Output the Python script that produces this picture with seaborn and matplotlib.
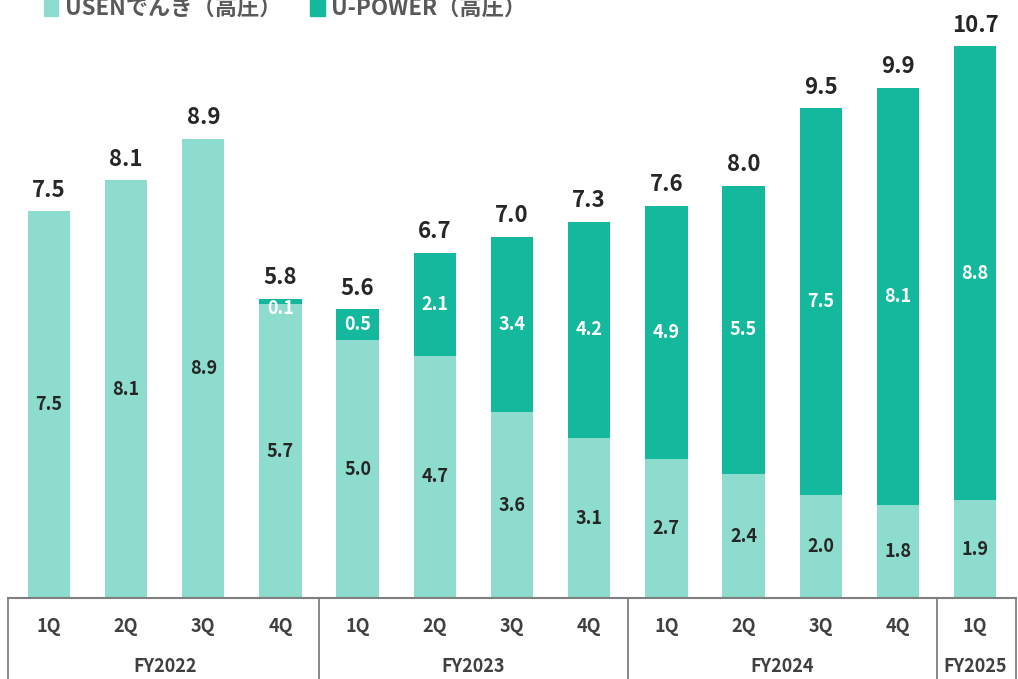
import matplotlib
matplotlib.use('Agg')
import matplotlib.pyplot as plt
from matplotlib.patches import Patch
import seaborn as sns
import pandas as pd
import numpy as np

# Data
quarters = ['1Q', '2Q', '3Q', '4Q', '1Q', '2Q', '3Q', '4Q', '1Q', '2Q', '3Q', '4Q', '1Q']
years = ['FY2022', 'FY2023', 'FY2024', 'FY2025']
year_sizes = [4, 4, 4, 1]
usen = [7.5, 8.1, 8.9, 5.7, 5.0, 4.7, 3.6, 3.1, 2.7, 2.4, 2.0, 1.8, 1.9]
upower = [0.0, 0.0, 0.0, 0.1, 0.5, 2.1, 3.4, 4.2, 4.9, 5.5, 7.5, 8.1, 8.8]
totals = [7.5, 8.1, 8.9, 5.8, 5.6, 6.7, 7.0, 7.3, 7.6, 8.0, 9.5, 9.9, 10.7]
series_names = ['USENでんき（高圧）', 'U-POWER（高圧）']

light = '#8DDCCE'
dark = '#14B89C'
text_dark = '#262626'
text_gray = '#404040'

sns.set_theme(style='white')
plt.rcParams['font.family'] = ['Noto Sans CJK JP', 'DejaVu Sans']

df = pd.DataFrame({
    'pos': [str(i) for i in range(len(quarters))],
    'usen': usen,
    'upower': upower,
    'total': totals,
})

fig = plt.figure(figsize=(10.18, 6.79), dpi=100)
ax = fig.add_axes([8 / 1018, 81 / 679, 1008 / 1018, 598 / 679])

# stacked look: total bar in dark, USEN portion drawn over it in light
sns.barplot(data=df, x='pos', y='total', color=dark, saturation=1, width=0.55,
            linewidth=0, ax=ax)
sns.barplot(data=df, x='pos', y='usen', color=light, saturation=1, width=0.55,
            linewidth=0, ax=ax)

ax.set_xlim(-0.53, 12.53)
ax.set_ylim(0, 11.6)
ax.set_yticks([])
ax.set_xticks([])
ax.set_xlabel('')
ax.set_ylabel('')
for s in ['top', 'right', 'left']:
    ax.spines[s].set_visible(False)
ax.spines['bottom'].set_color('#7f7f7f')
ax.spines['bottom'].set_linewidth(1.5)

for i in range(len(quarters)):
    # totals above bars
    ax.annotate(f'{totals[i]:.1f}', (i, totals[i]), xytext=(0, 7), textcoords='offset points',
                ha='center', va='bottom', fontsize=16, fontweight='bold', color=text_dark)
    # USEN segment
    ax.text(i, usen[i] / 2, f'{usen[i]:.1f}', ha='center', va='center',
            fontsize=13, fontweight='bold', color=text_dark)
    # U-POWER segment
    if upower[i] > 0:
        y = usen[i] + (totals[i] - usen[i]) / 2
        if upower[i] < 0.3:
            y -= 0.13
        ax.text(i, y, f'{upower[i]:.1f}', ha='center', va='center',
                fontsize=13, fontweight='bold', color='white')

# two-level category axis
trans = ax.get_xaxis_transform()
for i, q in enumerate(quarters):
    ax.text(i, -0.047, q, transform=trans, ha='center', va='center',
            fontsize=13, fontweight='bold', color=text_gray)
start = 0
bounds = [-0.53]
for name, n in zip(years, year_sizes):
    ax.text(start + (n - 1) / 2, -0.114, name, transform=trans, ha='center', va='center',
            fontsize=13, fontweight='bold', color=text_gray)
    start += n
    bounds.append(start - 0.5)
bounds[-1] = 12.53
for b in bounds:
    ax.plot([b, b], [0, -0.14], transform=trans, color='#7f7f7f', lw=1.3, clip_on=False)

handles = [Patch(color=light), Patch(color=dark)]
fig.legend(handles, series_names, loc='center', bbox_to_anchor=(0.28, 1 - 8 / 679),
           ncol=2, frameon=False, handlelength=0.65, handleheight=0.95,
           handletextpad=0.3, columnspacing=1.3,
           prop={'weight': 'bold', 'size': 16, 'family': ['Noto Sans CJK JP', 'DejaVu Sans']},
           labelcolor='#595959')

fig.savefig('out.png', dpi=100)
